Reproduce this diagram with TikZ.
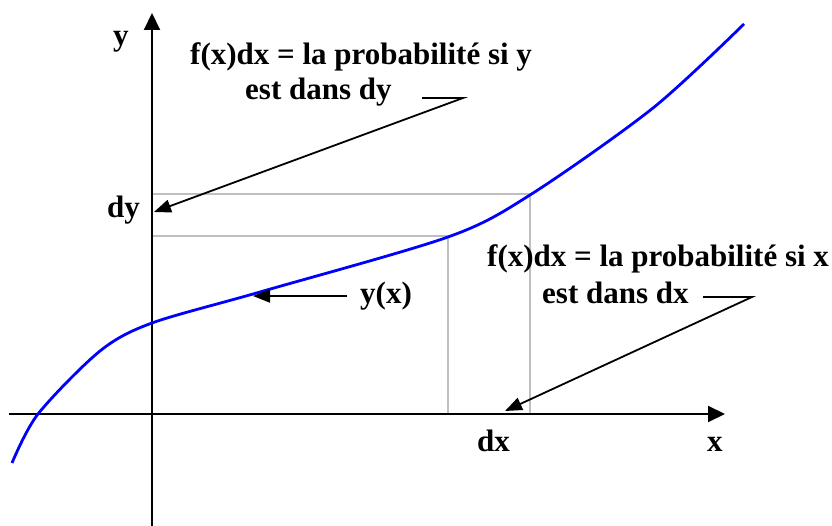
\documentclass[tikz,border=0pt]{standalone}
\usepackage{fontspec}
\setmainfont{Liberation Serif}
\usetikzlibrary{arrows.meta}
\begin{document}
\begin{tikzpicture}[x=1pt,y=-1pt,
  lbl/.style={anchor=base west,inner sep=0pt,font=\fontsize{31}{37}\selectfont\bfseries},
  axis/.style={line width=2pt,-{Triangle[length=17pt,width=16pt]}},
  ptr/.style={line width=1.8pt,-{Triangle[length=17pt,width=13pt]}},
  guide/.style={line width=2pt,color=black!25},
  curvestyle/.style={line width=2.8pt,blue}]
\useasboundingbox (0,0) rectangle (832,526);
% guide lines
\coordinate (g1a) at (152,194); \coordinate (g1b) at (530,194); \coordinate (g1c) at (530,414);
\coordinate (g2a) at (152,236); \coordinate (g2b) at (448,236); \coordinate (g2c) at (448,414);
\draw[guide] (g1a) -- (g1b) -- (g1c);
\draw[guide] (g2a) -- (g2b) -- (g2c);
% axes
\coordinate (yb) at (152,526); \coordinate (yt) at (152,13);
\coordinate (xl) at (9,414); \coordinate (xr) at (725,414);
\draw[axis] (yb) -- (yt);
\draw[axis] (xl) -- (xr);
% curve
\draw[curvestyle] plot[smooth,tension=0.5] coordinates {(12,463) (38,414) (100,351) (152,323) (260,292) (448,237) (530,195) (653,108) (744,24)};
% labels
\node[lbl] (ly) at (113,46) {y};
\node[lbl] (l1) at (190,65) {f(x)dx = la probabilité si y};
\node[lbl] (l2) at (245,100) {est dans dy};
\node[lbl] (ldy) at (107,218) {dy};
\node[lbl] (lyx) at (360,304) {y(x)};
\node[lbl] (l3) at (487,267) {f(x)dx = la probabilité si x};
\node[lbl] (l4) at (542,304) {est dans dx};
\node[lbl] (ldx) at (477,451) {dx};
\node[lbl] (lx) at (707,451) {x};
% pointers
\coordinate (p1s) at (422,98); \coordinate (p1k) at (463,98); \coordinate (p1t) at (154,212);
\draw[ptr] (p1s) -- (p1k) -- (p1t);
\coordinate (p2s) at (347,296); \coordinate (p2t) at (253,296);
\draw[ptr] (p2s) -- (p2t);
\coordinate (p3s) at (703,297); \coordinate (p3k) at (752,297); \coordinate (p3t) at (505,411);
\draw[ptr] (p3s) -- (p3k) -- (p3t);
\end{tikzpicture}
\end{document}
